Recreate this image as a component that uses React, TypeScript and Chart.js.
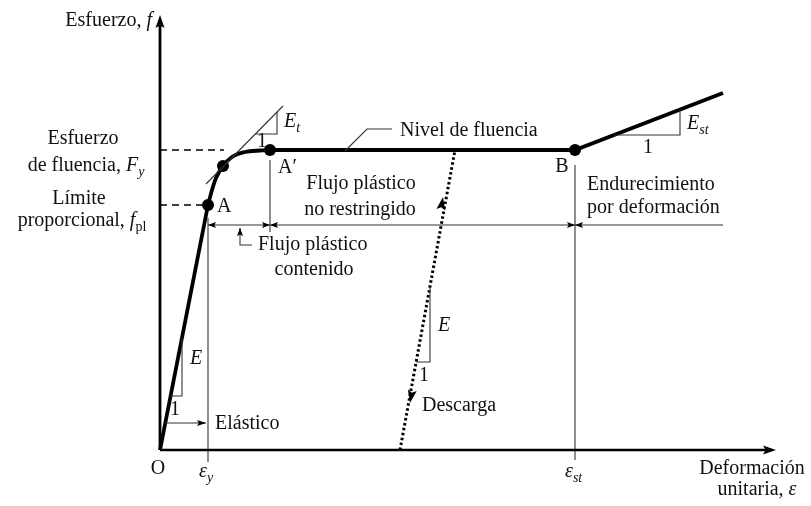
import React, { useEffect, useRef } from "react";
import { Chart, registerables } from "chart.js";
Chart.register(...registerables);

// Units: strain (x10^-3), stress (ksi)
const EPS_Y = 1.2;
const EPS_ST = 10.375;
const FY = 36;
const FPL = 29.4;

const elasticX = [0, EPS_Y];
const elasticY = [0, FPL];
const kneeX = [1.2, 1.3, 1.4, 1.575, 1.8, 2.125, 2.5, 2.75];
const kneeY = [29.4, 31.2, 32.64, 34.08, 35.16, 35.76, 35.94, 36];
const plateauX = [2.75, EPS_ST, 14.075];
const plateauY = [FY, FY, 42.84];
const markX = [EPS_Y, 1.575, 2.75, EPS_ST];
const markY = [FPL, 34.08, FY, FY];
const unloadX = [6.0, 7.375];
const unloadY = [0, FY];
const tangentX = [1.15, 3.075];
const tangentY = [31.92, 41.28];
const axisEndX = 15.4;
const axisEndY = 52.2;

const pts = (xs: number[], ys: number[]) => xs.map((x, i) => ({ x, y: ys[i] }));

// thin guide lines [xs, ys]
const guides: [number[], number[]][] = [
  [[EPS_Y, EPS_Y], [27.84, -1.44]],
  [[2.75, 2.75], [34.8, 26.16]],
  [[EPS_ST, EPS_ST], [34.2, -1.2]],
  [[EPS_Y, 14.075], [27, 27]],
  [[2.0, 2.0, 2.3], [26.64, 24.6, 24.6]],
  [[4.625, 5.175, 5.8], [35.88, 38.52, 38.52]],
  [[2.384, 2.925, 2.925], [37.92, 37.92, 40.55]],
  [[0.2645, 0.55, 0.55], [6.48, 6.48, 13.475]],
  [[6.403, 6.75, 6.75], [10.56, 10.56, 19.64]],
  [[11.349, 13.0, 13.0], [37.8, 37.8, 40.85]],
  [[0.125, 1.15], [3.24, 3.24]],
  [tangentX, tangentY],
];
const dashed: [number[], number[]][] = [
  [[0, 1.6], [FY, FY]],
  [[0, 1.15], [FPL, FPL]],
];

// arrows: tip, from, length, half-width
const arrows: [number, number, number, number, number, number][] = [
  [0, axisEndY, 0, 0, 13, 4.5],
  [axisEndX, 0, 0, 0, 13, 4.5],
  [EPS_Y, 27, 2, 27, 8, 3],
  [2.75, 27, 2.4, 27, 8, 3],
  [2.75, 27, 3.1, 27, 8, 3],
  [EPS_ST, 27, 10.0, 27, 8, 3],
  [EPS_ST, 27, 10.75, 27, 8, 3],
  [2.0, 26.64, 2.0, 24.6, 8, 3],
  [1.15, 3.24, 0.125, 3.24, 9, 3],
  [7.075, 30.36, 6.0, 0, 13, 4.5],
  [6.25, 5.64, 7.375, 36, 13, 4.5],
];

type Seg = { t: string; i?: boolean; sub?: boolean };
type Lab = [number, number, "left" | "center" | "right", Seg[]];
const labels: Lab[] = [
  [-0.2, 51.48, "right", [{ t: "Esfuerzo, " }, { t: "f", i: true }]],
  [-1.925, 37.32, "center", [{ t: "Esfuerzo" }]],
  [-1.85, 34.08, "center", [{ t: "de fluencia, " }, { t: "F", i: true }, { t: "y", i: true, sub: true }]],
  [-2.025, 30.12, "center", [{ t: "Límite" }]],
  [-1.95, 27.48, "center", [{ t: "proporcional, " }, { t: "f", i: true }, { t: "pl", sub: true }]],
  [1.425, 29.16, "left", [{ t: "A" }]],
  [2.95, 33.84, "left", [{ t: "A′" }]],
  [6.0, 38.28, "left", [{ t: "Nivel de fluencia" }]],
  [5.025, 31.92, "center", [{ t: "Flujo plástico" }]],
  [5.0, 28.8, "center", [{ t: "no restringido" }]],
  [2.45, 24.6, "left", [{ t: "Flujo plástico" }]],
  [3.85, 21.6, "center", [{ t: "contenido" }]],
  [10.05, 33.96, "center", [{ t: "B" }]],
  [10.675, 31.8, "left", [{ t: "Endurecimiento" }]],
  [10.675, 29.04, "left", [{ t: "por deformación" }]],
  [13.175, 39.12, "left", [{ t: "E", i: true }, { t: "st", i: true, sub: true }]],
  [12.2, 36.24, "center", [{ t: "1" }]],
  [3.1, 39.36, "left", [{ t: "E", i: true }, { t: "t", i: true, sub: true }]],
  [2.55, 36.96, "center", [{ t: "1" }]],
  [0.9, 10.92, "center", [{ t: "E", i: true }]],
  [0.375, 4.8, "center", [{ t: "1" }]],
  [1.375, 3.12, "left", [{ t: "Elástico" }]],
  [7.1, 14.88, "center", [{ t: "E", i: true }]],
  [6.6, 8.88, "center", [{ t: "1" }]],
  [6.55, 5.28, "left", [{ t: "Descarga" }]],
  [-0.05, -2.28, "center", [{ t: "O" }]],
  [0.975, -2.64, "left", [{ t: "ε", i: true }, { t: "y", i: true, sub: true }]],
  [10.125, -2.64, "left", [{ t: "ε", i: true }, { t: "st", i: true, sub: true }]],
  [14.8, -2.28, "center", [{ t: "Deformación" }]],
  [14.925, -4.8, "center", [{ t: "unitaria, " }, { t: "ε", i: true }]],
];

const FONT = '"Liberation Serif", "Times New Roman", serif';
const SIZE = 20;
const INK = "#000";

const overlay = {
  id: "overlay",
  afterDatasetsDraw(chart: any) {
    const ctx = chart.ctx as CanvasRenderingContext2D;
    const sx = chart.scales.x, sy = chart.scales.y;
    const X = (v: number) => sx.getPixelForValue(v);
    const Y = (v: number) => sy.getPixelForValue(v);
    ctx.save();
    ctx.fillStyle = INK;
    for (const [tx, ty, fx, fy, len, half] of arrows) {
      const px = X(tx), py = Y(ty);
      const ang = Math.atan2(py - Y(fy), px - X(fx));
      ctx.save();
      ctx.translate(px, py);
      ctx.rotate(ang);
      ctx.beginPath();
      ctx.moveTo(0, 0);
      ctx.lineTo(-len, half);
      ctx.lineTo(-len * 0.8, 0);
      ctx.lineTo(-len, -half);
      ctx.closePath();
      ctx.fill();
      ctx.restore();
    }
    ctx.fillStyle = "#111";
    ctx.textBaseline = "middle";
    for (const [x, y, align, segs] of labels) {
      const fontFor = (s: Seg) => `${s.i ? "italic " : ""}${s.sub ? Math.round(SIZE * 0.72) : SIZE}px ${FONT}`;
      let w = 0;
      for (const s of segs) { ctx.font = fontFor(s); w += ctx.measureText(s.t).width; }
      let cx = align === "left" ? X(x) : align === "right" ? X(x) - w : X(x) - w / 2;
      const cy = Y(y);
      for (const s of segs) {
        ctx.font = fontFor(s);
        ctx.textAlign = "left";
        ctx.fillText(s.t, cx, cy + (s.sub ? SIZE * 0.32 : 0));
        cx += ctx.measureText(s.t).width;
      }
    }
    ctx.restore();
  },
};

export default function App() {
  const ref = useRef<HTMLCanvasElement>(null);
  useEffect(() => {
    if (!ref.current) return;
    const line = (data: any, width: number, extra: any = {}) => ({
      data, showLine: true, borderColor: INK, backgroundColor: INK,
      borderWidth: width, pointRadius: 0, tension: 0, ...extra,
    });
    const datasets: any[] = [
      line(pts([0, 0], [0, axisEndY - 1]), 2.8),
      line(pts([0, axisEndX - 0.2], [0, 0]), 2.6),
      ...guides.map(([xs, ys]) => line(pts(xs, ys), 1.1, { borderColor: "#333" })),
      ...dashed.map(([xs, ys]) => line(pts(xs, ys), 1.5, { borderDash: [7, 5] })),
      line(pts(unloadX, unloadY), 3, { borderDash: [2.5, 2.5] }),
      line(pts(elasticX, elasticY), 3.8),
      line(pts(kneeX, kneeY), 3.8, { cubicInterpolationMode: "monotone" }),
      line(pts(plateauX, plateauY), 3.8),
      { data: pts(markX, markY), showLine: false, pointRadius: 6, pointBackgroundColor: INK, pointBorderColor: INK, borderWidth: 0 },
    ];
    const chart = new Chart(ref.current, {
      type: "scatter",
      data: { datasets },
      options: {
        animation: false,
        responsive: false,
        events: [],
        layout: { padding: 0, autoPadding: false },
        plugins: { legend: { display: false }, tooltip: { enabled: false } },
        scales: {
          x: { type: "linear", min: -4.0, max: 16.275, display: false },
          y: { type: "linear", min: -6.72, max: 54, display: false },
        },
      } as any,
      plugins: [overlay],
    });
    return () => chart.destroy();
  }, []);
  return (
    <div style={{ position: "absolute", left: 0, top: 0, width: 811, height: 506, background: "#fff" }}>
      <canvas ref={ref} width={811} height={506} />
    </div>
  );
}
